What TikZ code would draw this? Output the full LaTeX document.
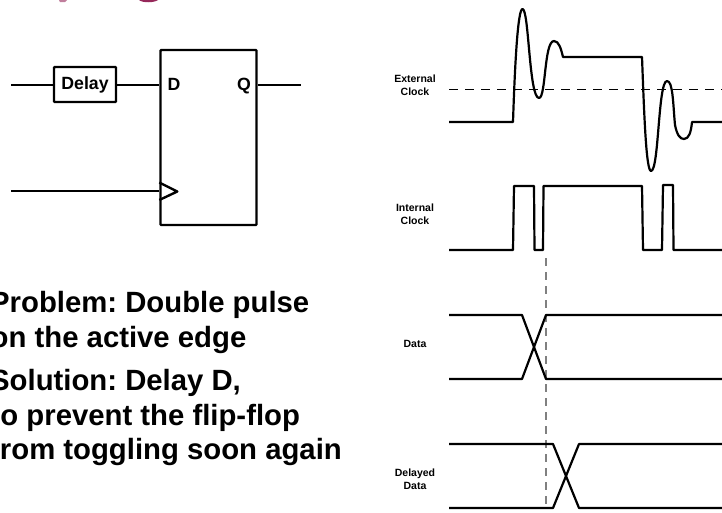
\documentclass[tikz,border=0pt]{standalone}
\usepackage{fontspec}
\setmainfont{Liberation Sans}
\frenchspacing
\usetikzlibrary{calc,positioning}
\definecolor{titlepink}{RGB}{150,40,90}
\tikzset{
	wave/.style={line width=2.2pt,line join=round},
	wire/.style={line width=1.5pt},
	boxed/.style={draw,line width=2.4pt,rounded corners=0.8pt,inner sep=0pt},
	bigtext/.style={anchor=base west,inner sep=0pt,font=\bfseries\fontsize{29.3}{29.3}\selectfont},
	sigtext/.style={align=center,inner sep=0pt,font=\bfseries\fontsize{10.5}{12.5}\selectfont},
	pintext/.style={inner sep=0pt,font=\bfseries\fontsize{17.7}{17.7}\selectfont}
}
\begin{document}
\begin{tikzpicture}[x=1pt,y=-1pt]
	\useasboundingbox (0,0) rectangle (722,512);
	% title remains
	\fill[titlepink!60] (59,0) -- (67,0) -- (65,2) -- (60,2) -- cycle;
	\fill[titlepink] (139,0) .. controls (142,3) and (154,3) .. (158,0) -- cycle;
	% flip-flop
	\node (FF) at (208.5,137.5) [boxed,minimum width=96,minimum height=175] {};
	\node (DL) at (85,84.5) [boxed,minimum width=62,minimum height=35,pintext] {Delay};
	\node (D) at (174,90) [pintext,anchor=base] {D};
	\node (Q) at (244,90) [pintext,anchor=base] {Q};
	\coordinate (In) at (11,85);
	\coordinate (Out) at (301,85);
	\coordinate (ClkIn) at (11,191);
	\coordinate (ClkPin) at (FF.west |- ClkIn);
	\draw[wire] (In) -- (DL.west |- In);
	\draw[wire] (DL.east |- In) -- (FF.west |- In);
	\draw[wire] (FF.east |- Out) -- (Out);
	\draw[wire] (ClkIn) -- (ClkPin);
	\draw[line width=2.4pt,line join=round] ($(ClkPin)+(0,-8.5)$) -- ($(ClkPin)+(18,0.5)$) -- ($(ClkPin)+(0,9)$);
	% text
	\node (T1) at (-10,312) [bigtext] {Problem: Double pulse};
	\node (T2) at (-9.5,347) [bigtext] {on the active edge};
	\node (T3) at (-10,390) [bigtext] {Solution: Delay D,};
	\node (T4) at (-9.5,425) [bigtext] {to prevent the flip-flop};
	\node (T5) at (-10,459) [bigtext] {from toggling soon again};
	% signal names
	\node (S1) at (415,85) [sigtext] {External\\Clock};
	\node (S2) at (415,214) [sigtext] {Internal\\Clock};
	\node (S3) at (415,344) [sigtext] {Data};
	\node (S4) at (415,479) [sigtext] {Delayed\\Data};
	% external clock
	\draw[line width=1pt,dash pattern=on 8.5pt off 7.5pt] (449,89) -- (722,89);
	\draw[wave] (449,122) -- (513,122) .. controls (515,60) and (518,9) .. (522.5,9)
		.. controls (529,9) and (529,98) .. (539,98)
		.. controls (546,98) and (544,41) .. (554,41)
		.. controls (559,41) and (561,49) .. (563,57) -- (642,57)
		.. controls (644,110) and (646,171) .. (651,171)
		.. controls (659,171) and (658,81) .. (667,81)
		.. controls (673,81) and (673,104) .. (675,125)
		.. controls (677,135) and (680,139) .. (684,139)
		.. controls (689,139) and (691,132) .. (692,122) -- (722,122);
	% internal clock
	\draw[wave] (449,250) -- (513,250) -- (514,186) -- (534,186) -- (534.5,250) -- (543,250)
		-- (543.5,186) -- (642,186) -- (643,250) -- (662,250) -- (663,185) -- (673,185) -- (673.5,250) -- (722,250);
	% marker
	\draw[line width=1.5pt,gray,dash pattern=on 8pt off 6pt] (546,258) -- (546,508);
	% data
	\draw[wave] (449,315) -- (522,315) -- (546,379) -- (722,379);
	\draw[wave] (449,379) -- (522,379) -- (546,315) -- (722,315);
	% delayed data
	\draw[wave] (449,444) -- (553,444) -- (579,508) -- (722,508);
	\draw[wave] (449,508) -- (553,508) -- (579,444) -- (722,444);
\end{tikzpicture}
\end{document}
